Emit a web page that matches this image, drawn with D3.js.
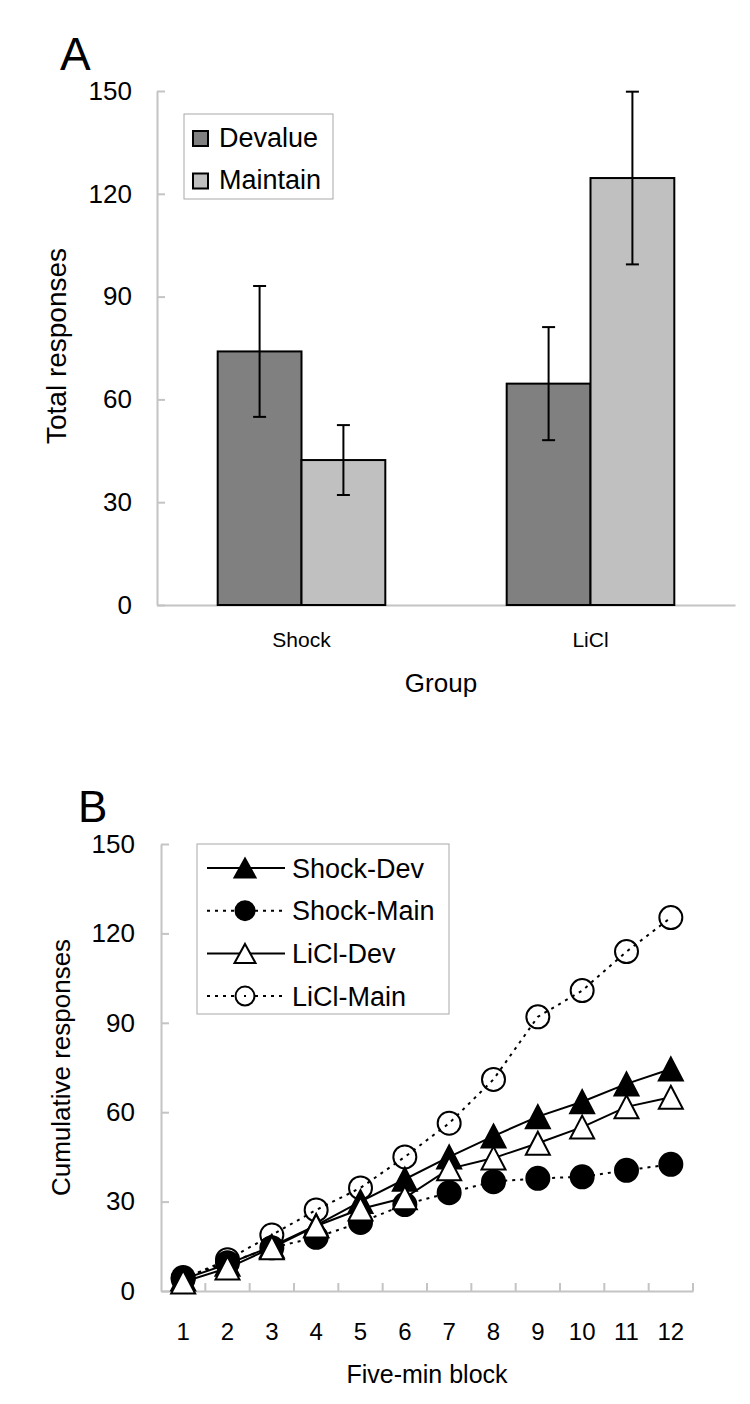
<!DOCTYPE html>
<html><head><meta charset="utf-8">
<script src="https://cdn.jsdelivr.net/npm/d3@7"></script>
<style>body{margin:0;background:#fff}svg{display:block;font-family:"Liberation Sans",Arial,sans-serif}</style>
</head><body><svg id="c" width="750" height="1404"></svg>
<script>
// ---------- Panel A data ----------
const groups = ["Shock", "LiCl"];
const barSeries = ["Devalue", "Maintain"];
const devalueMeans = [74, 64.6];
const devalueErr = [19.1, 16.5];
const maintainMeans = [42.3, 124.6];
const maintainErr = [10.2, 25.2];
const yTicksA = [0, 30, 60, 90, 120, 150];

// ---------- Panel B data ----------
const blocks = [1, 2, 3, 4, 5, 6, 7, 8, 9, 10, 11, 12];
const shockDev  = [4, 9, 15, 22, 30, 37.5, 45, 52, 58.5, 63.5, 69.5, 74.5];
const shockMain = [4.5, 9.5, 14.5, 18, 23, 29, 33, 36.7, 37.8, 38.3, 40.5, 42.5];
const liclDev   = [3, 7.7, 14.5, 21.8, 27.5, 31.3, 41, 44.6, 49.6, 55, 61.8, 65];
const liclMain  = [4, 10.5, 18.8, 27.2, 34.6, 45, 56.3, 71, 92, 100.8, 113.9, 125.3];
const lineSeries = ["Shock-Dev", "Shock-Main", "LiCl-Dev", "LiCl-Main"];
const yTicksB = [0, 30, 60, 90, 120, 150];

const svg = d3.select("#c");
svg.append("rect").attr("width", 750).attr("height", 1404).attr("fill", "#fff");
const AXC = "#c4c4c4";

// ================= Panel A =================
const A = {l: 157, r: 735, t: 91, b: 605};
const yA = d3.scaleLinear().domain([0, 150]).range([A.b, A.t]);
const xA = d3.scaleBand().domain(groups).range([A.l, A.r]).paddingInner(0.42).paddingOuter(0.21);
const xA2 = d3.scaleBand().domain(barSeries).range([0, xA.bandwidth()]);
const colA = {Devalue: "#808080", Maintain: "#c0c0c0"};

const gA = svg.append("g");
const yAxA = gA.append("g").attr("transform", `translate(${A.l},0)`)
  .call(d3.axisLeft(yA).tickValues(yTicksA).tickSize(-8).tickSizeOuter(0).tickPadding(25).tickFormat(d3.format("d")));
yAxA.select(".domain").attr("stroke", AXC).attr("stroke-width", 2);
yAxA.selectAll(".tick line").attr("stroke", AXC).attr("stroke-width", 2);
yAxA.selectAll("text").attr("font-size", 26).attr("fill", "#000").attr("font-family", null);

const xAxA = gA.append("g").attr("transform", `translate(0,${A.b})`)
  .call(d3.axisBottom(xA).tickSize(0).tickSizeOuter(0).tickPadding(27));
xAxA.select(".domain").attr("stroke", AXC).attr("stroke-width", 2);
xAxA.selectAll("text").attr("font-size", 21).attr("fill", "#000").attr("font-family", null);

// bars
const barData = [];
groups.forEach((g, i) => {
  barData.push({g, s: "Devalue", v: devalueMeans[i], e: devalueErr[i]});
  barData.push({g, s: "Maintain", v: maintainMeans[i], e: maintainErr[i]});
});
gA.selectAll("rect.bar").data(barData).join("rect").attr("class", "bar")
  .attr("x", d => xA(d.g) + xA2(d.s))
  .attr("y", d => yA(d.v))
  .attr("width", xA2.bandwidth())
  .attr("height", d => yA(0) - yA(d.v))
  .attr("fill", d => colA[d.s]).attr("stroke", "#000").attr("stroke-width", 2);
// error bars
const eb = gA.selectAll("g.eb").data(barData).join("g").attr("class", "eb")
  .attr("transform", d => `translate(${xA(d.g) + xA2(d.s) + xA2.bandwidth() / 2},0)`);
eb.append("line").attr("y1", d => yA(d.v + d.e)).attr("y2", d => yA(d.v - d.e))
  .attr("stroke", "#000").attr("stroke-width", 2);
eb.append("line").attr("x1", -6.5).attr("x2", 6.5).attr("y1", d => yA(d.v + d.e)).attr("y2", d => yA(d.v + d.e))
  .attr("stroke", "#000").attr("stroke-width", 2);
eb.append("line").attr("x1", -6.5).attr("x2", 6.5).attr("y1", d => yA(d.v - d.e)).attr("y2", d => yA(d.v - d.e))
  .attr("stroke", "#000").attr("stroke-width", 2);

// legend A
const lgA = gA.append("g");
lgA.append("rect").attr("x", 184).attr("y", 114).attr("width", 149).attr("height", 85)
  .attr("fill", "#fff").attr("stroke", "#a8a8a8").attr("stroke-width", 1);
barSeries.forEach((s, i) => {
  lgA.append("rect").attr("x", 193).attr("y", 131 + i * 42.5).attr("width", 15).attr("height", 15)
    .attr("fill", colA[s]).attr("stroke", "#000").attr("stroke-width", 2);
  lgA.append("text").attr("x", 219).attr("y", 147 + i * 42).attr("font-size", 27).text(s);
});

// titles A
gA.append("text").attr("x", 60).attr("y", 70).attr("font-size", 46).text("A");
gA.append("text").attr("transform", `translate(66,${(A.t + A.b) / 2 - 2}) rotate(-90)`)
  .attr("text-anchor", "middle").attr("font-size", 28).text("Total responses");
gA.append("text").attr("x", 441).attr("y", 692).attr("text-anchor", "middle")
  .attr("font-size", 26).text("Group");

// ================= Panel B =================
const B = {l: 161, r: 693, t: 844, b: 1291};
const yB = d3.scaleLinear().domain([0, 150]).range([B.b, B.t]);
const xB = d3.scaleBand().domain(blocks).range([B.l, B.r]).padding(0);
const cx = d => xB(d) + xB.bandwidth() / 2;

const gB = svg.append("g");
const yAxB = gB.append("g").attr("transform", `translate(${B.l},0)`)
  .call(d3.axisLeft(yB).tickValues(yTicksB).tickSize(-8).tickSizeOuter(0).tickPadding(26).tickFormat(d3.format("d")));
yAxB.select(".domain").attr("stroke", AXC).attr("stroke-width", 2);
yAxB.selectAll(".tick line").attr("stroke", AXC).attr("stroke-width", 2);
yAxB.selectAll("text").attr("font-size", 26).attr("fill", "#000").attr("font-family", null);

const xAxB = gB.append("g").attr("transform", `translate(0,${B.b})`)
  .call(d3.axisBottom(xB).tickSize(0).tickSizeOuter(0).tickPadding(32));
xAxB.select(".domain").attr("stroke", AXC).attr("stroke-width", 2);
xAxB.selectAll("text").attr("font-size", 24).attr("fill", "#000").attr("font-family", null);
gB.selectAll("line.bt").data(d3.range(1, blocks.length + 1)).join("line").attr("class", "bt")
  .attr("x1", i => B.l + i * xB.step()).attr("x2", i => B.l + i * xB.step())
  .attr("y1", B.b).attr("y2", B.b - 8).attr("stroke", AXC).attr("stroke-width", 2);

function triPath(w, h) {
  return `M0,${-h / 2}L${w / 2},${h / 2}L${-w / 2},${h / 2}Z`;
}
const specs = [
  {name: "LiCl-Main", vals: liclMain, marker: "circle", fill: "none", dash: "3,5"},
  {name: "Shock-Main", vals: shockMain, marker: "circle", fill: "#000", dash: "3,5"},
  {name: "Shock-Dev", vals: shockDev, marker: "tri", fill: "#000", dash: null},
  {name: "LiCl-Dev", vals: liclDev, marker: "tri", fill: "#fff", dash: null}
];
const line = d3.line().x(d => cx(d.x)).y(d => yB(d.y));

function drawMarker(sel, spec, big) {
  if (spec.marker === "circle") {
    sel.append("circle").attr("r", big ? 11.5 : 9.5)
      .attr("fill", spec.fill).attr("stroke", "#000").attr("stroke-width", 2);
  } else {
    sel.append("path").attr("d", big ? triPath(24, 23) : triPath(21, 19))
      .attr("fill", spec.fill).attr("stroke", "#000").attr("stroke-width", 2).attr("stroke-linejoin", "miter");
  }
}

specs.forEach(spec => {
  const pts = blocks.map((b, i) => ({x: b, y: spec.vals[i]}));
  const g = gB.append("g");
  g.append("path").attr("d", line(pts)).attr("fill", "none").attr("stroke", "#000")
    .attr("stroke-width", 2).attr("stroke-dasharray", spec.dash);
  pts.forEach(p => {
    const m = g.append("g").attr("transform", `translate(${cx(p.x)},${yB(p.y)})`);
    drawMarker(m, spec, true);
  });
});

// legend B
const lgB = gB.append("g");
lgB.append("rect").attr("x", 197).attr("y", 844).attr("width", 252).attr("height", 170)
  .attr("fill", "#fff").attr("stroke", "#a8a8a8").attr("stroke-width", 1);
lineSeries.forEach((name, i) => {
  const spec = specs.find(s => s.name === name);
  const yy = 868 + i * 42.7;
  lgB.append("line").attr("x1", 207).attr("x2", 285).attr("y1", yy).attr("y2", yy)
    .attr("stroke", "#000").attr("stroke-width", 2).attr("stroke-dasharray", spec.dash);
  const m = lgB.append("g").attr("transform", `translate(245,${yy})`);
  if (spec.marker === "circle" && spec.fill === "none") {
    m.append("circle").attr("r", 9.5).attr("fill", "#fff").attr("stroke", "none");
    m.append("line").attr("x1", -1).attr("x2", 1).attr("stroke", "#000").attr("stroke-width", 2);
  }
  drawMarker(m, spec, false);
  lgB.append("text").attr("x", 292).attr("y", yy + 9.5).attr("font-size", 27).text(name);
});

// titles B
gB.append("text").attr("x", 78).attr("y", 822).attr("font-size", 44).text("B");
gB.append("text").attr("transform", `translate(70,${(B.t + B.b) / 2}) rotate(-90)`)
  .attr("text-anchor", "middle").attr("font-size", 26).text("Cumulative responses");
gB.append("text").attr("x", 427).attr("y", 1383).attr("text-anchor", "middle")
  .attr("font-size", 25).text("Five-min block");
</script></body></html>
